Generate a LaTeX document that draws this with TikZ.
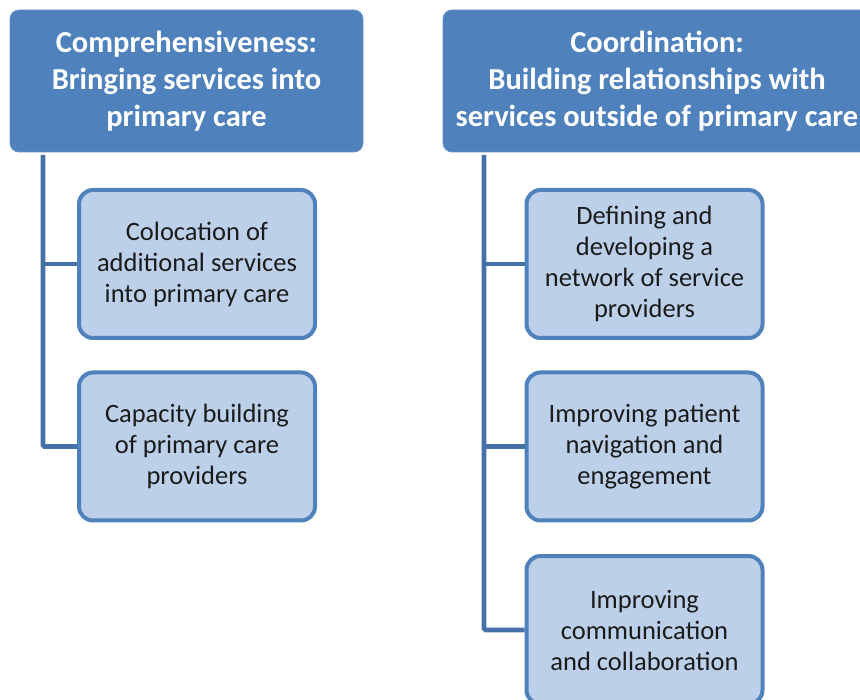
\documentclass[tikz,border=0pt]{standalone}
\usepackage{fontspec}
\setmainfont{Carlito}
\definecolor{hdrblue}{HTML}{4F81BD}
\definecolor{linkblue}{HTML}{4570A8}
\definecolor{childfill}{HTML}{BDD0E9}
\definecolor{childtext}{HTML}{1B1B1B}
\begin{document}
\begin{tikzpicture}[x=1pt,y=-1pt,
  header/.style={rectangle, rounded corners=9pt, fill=hdrblue, draw=hdrblue!85!white, line width=0.8pt,
    text=white, align=center, inner sep=0pt,
    font=\fontsize{30.5}{37}\selectfont\bfseries},
  child/.style={rectangle, rounded corners=14pt, fill=childfill, draw=hdrblue, line width=4pt,
    text=childtext, align=center, inner sep=0pt, minimum width=236pt, minimum height=148pt,
    font=\fontsize{26.5}{31}\selectfont},
  conn/.style={draw=linkblue, line width=4.6pt, rounded corners=1.5pt}]
\useasboundingbox (0,0) rectangle (860,700);
\fill[white] (0,0) rectangle (860,700);

\node[header, minimum width=353pt, minimum height=142pt] (h1) at (186.5,81)
  {Comprehensiveness:\\Bringing services into\\primary care};
\node[header, minimum width=428pt, minimum height=142pt] (h2) at (657,81)
  {Coordination:\\Building relationships with\\services outside of primary care};

\coordinate (la) at (43,155);
\coordinate (lb) at (484,155);

\node[child] (a1) at (197,264) {Colocation of\\additional services\\into primary care};
\node[child] (a2) at (197,446.5) {Capacity building\\of primary care\\providers};

\node[child] (b1) at (644.5,264) {Defining and\\developing a\\network of service\\providers};
\node[child] (b2) at (644.5,446.5) {Improving patient\\navigation and\\engagement};
\node[child] (b3) at (644.5,630) {Improving\\communication\\and collaboration};

\begin{scope}[on background layer/.style={}]
\draw[conn] (la) |- (a2.west);
\draw[conn] (la |- a1.west) -- (a1.west);
\draw[conn] (lb) |- (b3.west);
\draw[conn] (lb |- b1.west) -- (b1.west);
\draw[conn] (lb |- b2.west) -- (b2.west);
\end{scope}
\end{tikzpicture}
\end{document}
